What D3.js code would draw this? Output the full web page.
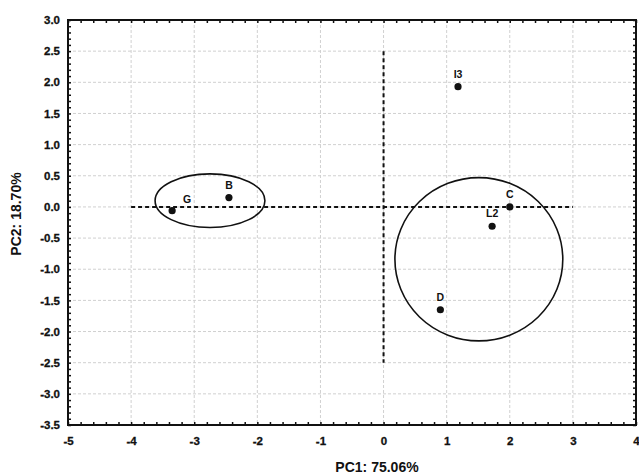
<!DOCTYPE html>
<html>
<head>
<meta charset="utf-8">
<script src="https://cdn.jsdelivr.net/npm/d3@7"></script>
<style>
  html, body { margin: 0; padding: 0; background: #fff; }
  svg { display: block; }
  text { font-family: "Liberation Sans", Arial, sans-serif; font-weight: bold; fill: #111; }
</style>
</head>
<body>
<svg id="chart" width="639" height="476"></svg>
<script>
// ---- data ----
const labels = ["G", "B", "I3", "C", "L2", "D"];
const pc1 = [-3.35, -2.45, 1.18, 2.0, 1.72, 0.90];
const pc2 = [-0.06, 0.15, 1.93, 0.0, -0.31, -1.65];

const ellipseCx = [-2.75, 1.51];
const ellipseCy = [0.10, -0.84];
const ellipseRx = [0.87, 1.33];
const ellipseRy = [0.43, 1.31];

const xTicks = [-5, -4, -3, -2, -1, 0, 1, 2, 3, 4];
const yTicks = [3.0, 2.5, 2.0, 1.5, 1.0, 0.5, 0.0, -0.5, -1.0, -1.5, -2.0, -2.5, -3.0, -3.5];
const xLabel = "PC1: 75.06%";
const yLabel = "PC2: 18.70%";
const hLine = { from: -4, to: 3, at: 0 };
const vLine = { from: 2.5, to: -2.5, at: 0 };

// ---- layout ----
const svg = d3.select("#chart");
const x = d3.scaleLinear().domain([-5, 4]).range([68, 636]);
const y = d3.scaleLinear().domain([-3.5, 3]).range([425, 20]);

// grid
const grid = svg.append("g");
grid.selectAll("line.gx").data(xTicks).enter().append("line")
  .attr("x1", d => x(d)).attr("x2", d => x(d))
  .attr("y1", y(3)).attr("y2", y(-3.5))
  .attr("stroke", "#d0d0d0").attr("stroke-width", 1).attr("stroke-dasharray", "3,2");
grid.selectAll("line.gy").data(yTicks).enter().append("line")
  .attr("y1", d => y(d)).attr("y2", d => y(d))
  .attr("x1", x(-5)).attr("x2", x(4))
  .attr("stroke", "#d0d0d0").attr("stroke-width", 1).attr("stroke-dasharray", "3,2");

// axes
const fmtY = d => (d < 0 ? "-" : "") + Math.abs(d).toFixed(1);
const fmtX = d => (d < 0 ? "-" : "") + Math.abs(d);

const xMinor = d3.range(-5, 4.0001, 0.2);
const yMinor = d3.range(-3.5, 3.0001, 0.1);

// bottom axis major
const gxB = svg.append("g").attr("transform", `translate(0,${y(-3.5)})`)
  .call(d3.axisBottom(x).tickValues(xTicks).tickFormat(fmtX).tickSize(0).tickPadding(12));
gxB.select(".domain").remove();
gxB.selectAll("text").attr("font-size", 11.5).style("font-weight", "bold").attr("fill", "#111")
  .attr("stroke", "#111").attr("stroke-width", 0.3);
// bottom minor ticks (inside)
svg.append("g").attr("transform", `translate(0,${y(-3.5)})`)
  .call(d3.axisBottom(x).tickValues(xMinor).tickFormat("").tickSizeInner(-3).tickSizeOuter(0))
  .call(g => g.select(".domain").remove())
  .selectAll("line").attr("stroke", "#111").attr("stroke-width", 1.5);
// top minor ticks
svg.append("g").attr("transform", `translate(0,${y(3)})`)
  .call(d3.axisTop(x).tickValues(xMinor).tickFormat("").tickSizeInner(-3).tickSizeOuter(0))
  .call(g => g.select(".domain").remove())
  .selectAll("line").attr("stroke", "#111").attr("stroke-width", 1.5);

// left axis
const gyL = svg.append("g").attr("transform", `translate(${x(-5)},0)`)
  .call(d3.axisLeft(y).tickValues(yTicks).tickFormat(fmtY).tickSize(0).tickPadding(8));
gyL.select(".domain").remove();
gyL.selectAll("text").attr("font-size", 11.5).style("font-weight", "bold").attr("fill", "#111")
  .attr("stroke", "#111").attr("stroke-width", 0.3);
svg.append("g").attr("transform", `translate(${x(-5)},0)`)
  .call(d3.axisLeft(y).tickValues(yMinor).tickFormat("").tickSizeInner(-3).tickSizeOuter(0))
  .call(g => g.select(".domain").remove())
  .selectAll("line").attr("stroke", "#111").attr("stroke-width", 1.5);
svg.append("g").attr("transform", `translate(${x(4)},0)`)
  .call(d3.axisRight(y).tickValues(yMinor).tickFormat("").tickSizeInner(-3).tickSizeOuter(0))
  .call(g => g.select(".domain").remove())
  .selectAll("line").attr("stroke", "#111").attr("stroke-width", 1.5);

// frame
svg.append("rect")
  .attr("x", x(-5)).attr("y", y(3))
  .attr("width", x(4) - x(-5)).attr("height", y(-3.5) - y(3))
  .attr("fill", "none").attr("stroke", "#111").attr("stroke-width", 2);

// dashed reference lines
svg.append("line")
  .attr("x1", x(hLine.from)).attr("x2", x(hLine.to))
  .attr("y1", y(hLine.at)).attr("y2", y(hLine.at))
  .attr("stroke", "#111").attr("stroke-width", 2).attr("stroke-dasharray", "4,3");
svg.append("line")
  .attr("x1", x(vLine.at)).attr("x2", x(vLine.at))
  .attr("y1", y(vLine.from)).attr("y2", y(vLine.to))
  .attr("stroke", "#111").attr("stroke-width", 2).attr("stroke-dasharray", "4,3");

// ellipses
svg.selectAll("ellipse.grp").data(ellipseCx).enter().append("ellipse")
  .attr("cx", (d, i) => x(d))
  .attr("cy", (d, i) => y(ellipseCy[i]))
  .attr("rx", (d, i) => x(ellipseRx[i]) - x(0))
  .attr("ry", (d, i) => y(0) - y(ellipseRy[i]))
  .attr("fill", "none").attr("stroke", "#111").attr("stroke-width", 1.6);

// points
const pts = labels.map((l, i) => ({ l, x: pc1[i], y: pc2[i] }));
svg.selectAll("circle.pt").data(pts).enter().append("circle")
  .attr("cx", d => x(d.x)).attr("cy", d => y(d.y)).attr("r", 3.6)
  .attr("fill", "#111");
svg.selectAll("text.pl").data(pts).enter().append("text")
  .attr("x", d => x(d.x) + (d.l === "G" ? 15 : 0))
  .attr("y", d => y(d.y) - (d.l === "G" ? 8 : 9))
  .attr("text-anchor", "middle")
  .attr("font-size", 10.5)
  .text(d => d.l);

// axis titles
svg.append("text").attr("x", 377).attr("y", 472).attr("text-anchor", "middle")
  .attr("font-size", 14).text(xLabel);
svg.append("text").attr("transform", "translate(21,214) rotate(-90)").attr("text-anchor", "middle")
  .attr("font-size", 14).text(yLabel);
</script>
</body>
</html>
